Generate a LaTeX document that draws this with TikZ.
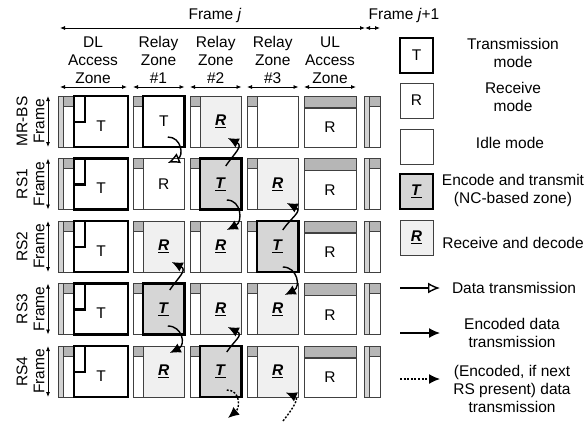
\documentclass[tikz,border=0pt]{standalone}
\usepackage{fontspec}
\setmainfont{Liberation Sans}
\usetikzlibrary{arrows.meta,positioning,calc}
\definecolor{stripgray}{HTML}{D2D2D2}
\definecolor{markgray}{HTML}{B6B6B6}
\definecolor{decodefill}{HTML}{F0F0F0}
\definecolor{encodefill}{HTML}{D6D6D6}
\definecolor{linegray}{HTML}{404040}
\newcommand{\encT}{\underline{\textbf{\textit{T}}}}
\newcommand{\decR}{\underline{\textbf{\textit{R}}}}
\tikzset{
    zonebox/.style={draw=linegray, line width=0.9pt, minimum width=41.5pt, minimum height=51pt, inner sep=0pt},
    txzone/.style={zonebox, draw=black, line width=2.6pt},
    rxzone/.style={zonebox},
    enczone/.style={txzone, fill=encodefill},
    deczone/.style={zonebox, fill=decodefill},
    legbox/.style={zonebox, minimum width=33pt, minimum height=35pt},
    thinline/.style={draw=linegray, line width=0.9pt},
    dimarrow/.style={{Latex[length=5pt,width=4pt]}-{Latex[length=5pt,width=4pt]}, line width=0.8pt},
    codedarrow/.style={-{Latex[length=11pt,width=10pt]}, line width=1.4pt},
    dataarrow/.style={-{Latex[open,length=12pt,width=11pt]}, line width=1.4pt},
    nextarrow/.style={codedarrow, dash pattern=on 2pt off 1.6pt}
}

\begin{document}
\begin{tikzpicture}[x=1pt, y=-1pt, font=\fontsize{15.5}{18}\selectfont]
    \useasboundingbox (0,0) rectangle (587,421);
    % header
    \node (framej) at (215,15) {Frame \textit{j}};
    \node (framejj) at (404,15) {Frame \textit{j}+1};
    \draw[dimarrow] (60,28) -- (365,28);
    \draw[dimarrow] (365,28) -- (380,28);
    \node[align=center] (hdl) at (93,60) {DL\\Access\\Zone};
    \node[align=center] (hz1) at (158.5,60) {Relay\\Zone\\\#1};
    \node[align=center] (hz2) at (215.75,60) {Relay\\Zone\\\#2};
    \node[align=center] (hz3) at (272.75,60) {Relay\\Zone\\\#3};
    \node[align=center] (hul) at (330,60) {UL\\Access\\Zone};
    \draw[dimarrow] (60,87) -- (127,87);
    \foreach \xa in {133,190,247}
        \draw[dimarrow] (\xa,87) -- (\xa+51.5,87);
    \draw[dimarrow] (304,87) -- (356,87);
    % frames of each station
    \foreach \r/\rowname in {0/MR-BS,1/RS1,2/RS2,3/RS3,4/RS4}{
        \pgfmathsetmacro{\t}{96+62.5*\r}
        \node[rotate=90] (st\r) at (22,\t+25.5) {\rowname};
        \node[rotate=90] (fr\r) at (39,\t+25.5) {Frame};
        \draw[dimarrow] (48,\t) -- (48,\t+51);
        % DL access zone
        \fill[stripgray] (58,\t) rectangle (63,\t+51);
        \draw[thinline] (58,\t) rectangle (74,\t+51);
        \draw[thinline] (63,\t) -- (63,\t+51);
        \filldraw[thinline, fill=markgray] (63,\t) rectangle (74,\t+10);
        \node[txzone, minimum width=54pt] (dl\r) at (101,\t+25.5) {};
        \node at (101,\t+30) {T};
        \draw[line width=2.6pt] (85,\t) |- (74,\t+26);
        % relay zone strips
        \foreach \xa in {133,190,247}{
            \draw[thinline] (\xa,\t) rectangle (\xa+10,\t+51);
            \filldraw[thinline, fill=markgray] (\xa,\t) rectangle (\xa+10,\t+10);
        }
        % UL access zone
        \node[zonebox, minimum width=52pt] (ul\r) at (330,\t+25.5) {};
        \filldraw[thinline, fill=markgray] (304,\t) rectangle (356,\t+12);
        \draw[line width=1.6pt, linegray] (304,\t+12) -- (356,\t+12);
        \node at (330,\t+31.5) {R};
        % next frame
        \fill[stripgray] (364,\t) rectangle (369,\t+51);
        \draw[thinline] (364,\t) rectangle (380,\t+51);
        \draw[thinline] (369,\t) -- (369,\t+51);
        \filldraw[thinline, fill=markgray] (369,\t) rectangle (380,\t+10);
    }
    % relay zones
    \node[txzone] (r0z1) at (163.75,121.5) {T};
    \node[deczone] (r0z2) at (220.75,121.5) {\decR};
    \node[rxzone] (r0z3) at (277.75,121.5) {};
    \node[rxzone] (r1z1) at (163.75,184) {R};
    \node[enczone] (r1z2) at (220.75,184) {\encT};
    \node[deczone] (r1z3) at (277.75,184) {\decR};
    \node[deczone] (r2z1) at (163.75,246.5) {\decR};
    \node[deczone] (r2z2) at (220.75,246.5) {\decR};
    \node[enczone] (r2z3) at (277.75,246.5) {\encT};
    \node[enczone] (r3z1) at (163.75,309) {\encT};
    \node[deczone] (r3z2) at (220.75,309) {\decR};
    \node[deczone] (r3z3) at (277.75,309) {\decR};
    \node[deczone] (r4z1) at (163.75,371.5) {\decR};
    \node[enczone] (r4z2) at (220.75,371.5) {\encT};
    \node[deczone] (r4z3) at (277.75,371.5) {\decR};
    % transmissions
    \draw[dataarrow] ([shift={(4,15.5)}]r0z1.center) .. controls +(14,0) and +(16,-7) .. ([shift={(4,-21)}]r1z1.center);
    \draw[codedarrow] ([shift={(5,-18)}]r1z2.center) .. controls +(8,-12) and +(16,8) .. ([shift={(7,16.5)}]r0z2.center);
    \draw[codedarrow] ([shift={(6,16)}]r1z2.center) .. controls +(15,0) and +(16,-8) .. ([shift={(6,-16.5)}]r2z2.center);
    \draw[codedarrow] ([shift={(5,-16.5)}]r2z3.center) .. controls +(8,-12) and +(16,8) .. ([shift={(9,19)}]r1z3.center);
    \draw[codedarrow] ([shift={(5,20.5)}]r2z3.center) .. controls +(15,0) and +(16,-8) .. ([shift={(7,-14)}]r3z3.center);
    \draw[codedarrow] ([shift={(6,-19)}]r3z1.center) .. controls +(8,-12) and +(16,8) .. ([shift={(8,15.5)}]r2z1.center);
    \draw[codedarrow] ([shift={(4,17)}]r3z1.center) .. controls +(15,0) and +(16,-8) .. ([shift={(6,-18.5)}]r4z1.center);
    \draw[codedarrow] ([shift={(6,-19.5)}]r4z2.center) .. controls +(8,-12) and +(16,8) .. ([shift={(7,18)}]r3z2.center);
    \coordinate (below2) at (228,418);
    \coordinate (below3) at (283,421);
    \draw[nextarrow] ([shift={(6,18.5)}]r4z2.center) .. controls +(14,0) and +(12,-10) .. (below2);
    \draw[nextarrow] (below3) .. controls +(8,-10) and +(14,6) .. ([shift={(8,21)}]r4z3.center);
    % legend
    \node[legbox, draw=black, line width=2.6pt] (legT) at (416.5,55.5) {T};
    \node[legbox] (legR) at (416.5,100.5) {R};
    \node[legbox] (legI) at (416.5,147) {};
    \node[legbox, draw=black, line width=2.6pt, fill=encodefill] (legE) at (416.5,191.5) {\encT};
    \node[legbox, fill=decodefill] (legD) at (416.5,237.5) {\decR};
    \node[align=center] (txT) at (513,53) {Transmission\\mode};
    \node[align=center] (txR) at (513,96.5) {Receive\\mode};
    \node (txI) at (510,143) {Idle mode};
    \node[align=center] (txE) at (513,190) {Encode and transmit\\(NC-based zone)};
    \node (txD) at (513,243) {Receive and decode};
    \coordinate (ldata) at (400,288);
    \coordinate (lcode) at (400,333);
    \coordinate (lnext) at (400,379);
    \draw[dataarrow] (ldata) -- +(40,0) node[right=8pt, text=black] (txdata) {Data transmission};
    \draw[codedarrow] (lcode) -- +(40,0);
    \draw[nextarrow] (lnext) -- +(40,0);
    \node[align=center] (txcode) at (512,333) {Encoded data\\transmission};
    \node[align=center] (txnext) at (512,389) {(Encoded, if next\\RS present) data\\transmission};
\end{tikzpicture}
\end{document}
